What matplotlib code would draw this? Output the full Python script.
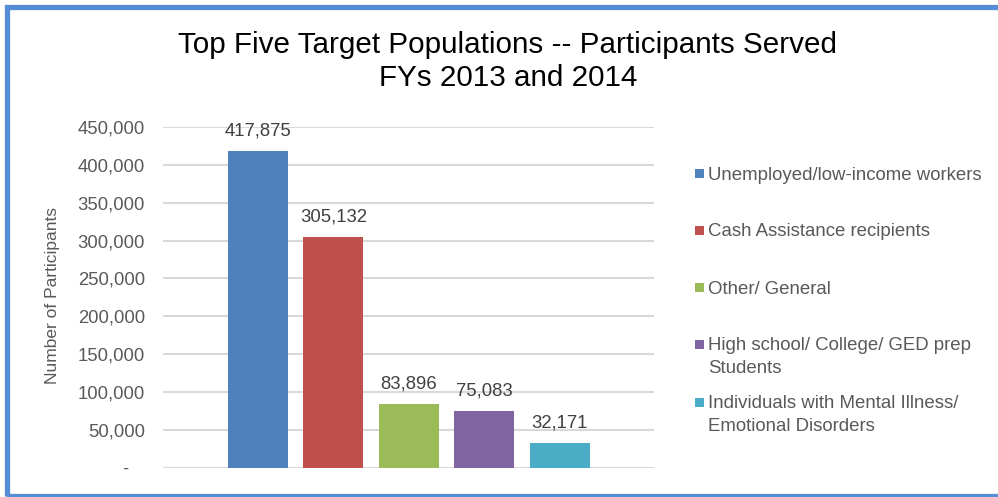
import matplotlib.pyplot as plt
from matplotlib.patches import Rectangle
from matplotlib.ticker import FuncFormatter

plt.rcParams['font.family'] = ['Liberation Sans', 'DejaVu Sans']

# data
groups = ["Unemployed/low-income workers",
          "Cash Assistance recipients",
          "Other/ General",
          "High school/ College/ GED prep\nStudents",
          "Individuals with Mental Illness/\nEmotional Disorders"]
participants = [417875, 305132, 83896, 75083, 32171]
colors = ["#4F81BD", "#C0504D", "#9BBB59", "#8064A2", "#4BACC6"]
yticks = [0, 50000, 100000, 150000, 200000, 250000, 300000, 350000, 400000, 450000]

W, H = 998, 497
fig = plt.figure(figsize=(W / 100, H / 100), dpi=100)
fig.patch.set_facecolor('white')

# outer frame (runs off the right edge)
fig.add_artist(Rectangle((7 / W, 1.5 / H), 1.2, (495.5 - 7) / H,
                         transform=fig.transFigure, fill=False,
                         edgecolor='#558ED5', linewidth=3.8, zorder=0))

ax = fig.add_axes([163 / W, 1 - 467.5 / H, (654 - 163) / W, (467.5 - 127) / H])
xs = list(range(len(participants)))
bars = ax.bar(xs, participants, width=0.795, color=colors, zorder=2)
for b, v in zip(bars, participants):
    ax.text(b.get_x() + b.get_width() / 2, v + 15000, f"{v:,}",
            ha='center', va='bottom', fontsize=13.3, color='#404040')

ax.set_xlim(-1.26, 5.25)
ax.set_ylim(0, 450000)
ax.set_yticks(yticks)
ax.yaxis.set_major_formatter(FuncFormatter(lambda v, p: "-   " if v == 0 else f"{int(v):,}"))
ax.tick_params(axis='y', length=0, pad=13, labelsize=13.3, labelcolor='#595959')
ax.set_xticks([])
ax.grid(axis='y', color='#D9D9D9', linewidth=1.5, zorder=1)
for s in ax.spines.values():
    s.set_visible(False)
ax.set_ylabel("Number of Participants", fontsize=12.5, color='#595959')
ax.yaxis.set_label_coords(-0.209, 0.504)

fig.text(508 / W, 1 - 61.5 / H, "Top Five Target Populations -- Participants Served\nFYs 2013 and 2014",
         ha='center', va='center', fontsize=21.3, color='black', linespacing=1.22)

# legend drawn by hand so multi-line entries align with their first line
leg_y = [173, 230, 287, 344, 402]
for lbl, c, y in zip(groups, colors, leg_y):
    fig.add_artist(Rectangle((695 / W, 1 - (y + 4.5) / H), 9 / W, 9 / H,
                             transform=fig.transFigure, facecolor=c, edgecolor='none'))
    fig.text(708 / W, 1 - (y - 6.5) / H, lbl, ha='left', va='top',
             fontsize=13.4, color='#595959', linespacing=1.42)

fig.savefig("out.png", dpi=100, facecolor='white')
